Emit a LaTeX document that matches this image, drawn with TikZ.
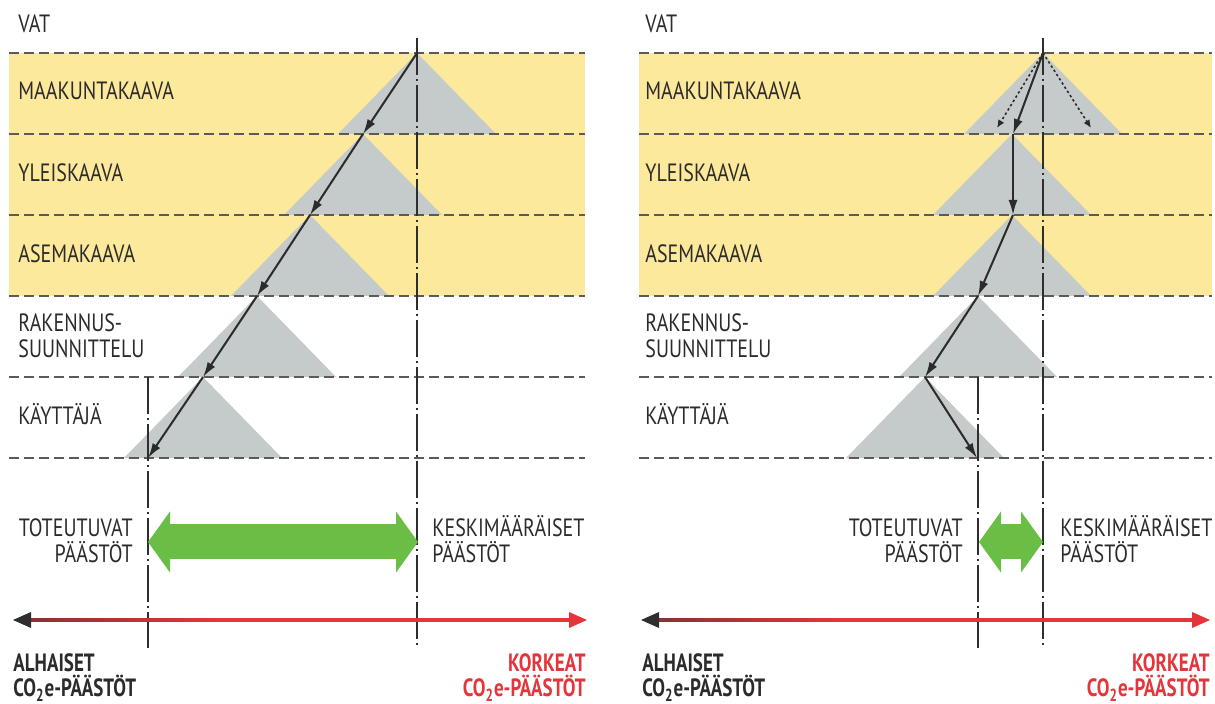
\documentclass[tikz,border=0pt]{standalone}
\usepackage{fontspec}
\setmainfont{PT Sans}[FakeStretch=0.8,BoldFeatures={FakeStretch=0.76}]
\usetikzlibrary{arrows.meta}
\definecolor{bandyellow}{HTML}{FDE99B}
\definecolor{conegray}{HTML}{C5CACA}
\definecolor{gaingreen}{HTML}{6ABD45}
\definecolor{highred}{HTML}{E5343A}
\definecolor{lowblack}{HTML}{2E2E2E}
\definecolor{rulegray}{HTML}{5A5A5A}
\definecolor{ink}{HTML}{2B2B2B}
\pgfdeclarehorizontalshading{blackred}{100bp}{color(0bp)=(lowblack); color(8bp)=(lowblack); color(42bp)=(highred); color(100bp)=(highred)}
\tikzset{
  >={Latex[length=7.5pt,width=4.5pt]},
}
\tikzstyle{cone}=[fill=conegray]
\tikzstyle{level}=[rulegray,line width=1pt,dash pattern=on 5pt off 2.5pt]
\tikzstyle{guide}=[lowblack,line width=1pt,dash pattern=on 18.5pt off 2pt on 1pt off 2pt]
\tikzstyle{move}=[ink,line width=1pt,->]
\tikzstyle{option}=[ink,line width=0.8pt,dash pattern=on 1.2pt off 1.3pt,-{Latex[length=4pt,width=3.5pt]}]
\tikzstyle{span}=[draw=gaingreen,line width=17.5pt,{Triangle[length=11pt,width=30pt]}-{Triangle[length=11pt,width=30pt]}]
\tikzstyle{every node}=[font=\fontsize{12.5}{13}\selectfont,text=ink,inner sep=0pt]
\tikzstyle{lab}=[anchor=base west,align=left]
\tikzstyle{scale label}=[font=\fontsize{12.5}{12.8}\selectfont\bfseries]

\begin{document}
\begin{tikzpicture}[x=0.5pt,y=-0.5pt]
        \useasboundingbox (0,0) rectangle (1215,704);
        % planning levels
        \fill[bandyellow] (9,53) rectangle (585,296);
        \fill[bandyellow] (639,53) rectangle (1212,296);
        \foreach \x/\y in {417/53,363/134,310/215,257/296,203/377,
                           1043/53,1012/134,1012/215,978/296,925/377}
          \fill[cone] (\x,\y) -- ++(-79,81) -- ++(158,0) -- cycle;
        \foreach \y in {53,134,215,296,377,458}{
          \draw[level] (9,\y) -- (585,\y);
          \draw[level] (639,\y) -- (1212,\y);
        }
        \draw[guide] (417,38) -- (417,648);
        \draw[guide] (148,377) -- (148,648);
        \draw[guide] (1043,38) -- (1043,648);
        \draw[guide] (978,377) -- (978,648);
        % left: decisions drift downwards
        \coordinate (L0) at (417,53);
        \coordinate (L1) at (363,134);
        \coordinate (L2) at (310,215);
        \coordinate (L3) at (257,296);
        \coordinate (L4) at (203,377);
        \coordinate (L5) at (148,458);
        \draw[move] (L0) -- (L1);
        \draw[move] (L1) -- (L2);
        \draw[move] (L2) -- (L3);
        \draw[move] (L3) -- (L4);
        \draw[move] (L4) -- (L5);
        % right: decisions stay close to the average
        \coordinate (R0) at (1043,53);
        \coordinate (R1) at (1013,134);
        \coordinate (R2) at (1013,215);
        \coordinate (R3) at (978,296);
        \coordinate (R4) at (925,377);
        \coordinate (R5) at (977,458);
        \coordinate (Ra) at (997,128);
        \coordinate (Rb) at (1091,128);
        \draw[option] (R0) -- (Ra);
        \draw[option] (R0) -- (Rb);
        \draw[move] (R0) -- (R1);
        \draw[move] (R1) -- (R2);
        \draw[move] (R2) -- (R3);
        \draw[move] (R3) -- (R4);
        \draw[move] (R4) -- (R5);
        % gaps
        \coordinate (gl) at (148,542);
        \coordinate (gr) at (418,542);
        \coordinate (hl) at (979,542);
        \coordinate (hr) at (1043,542);
        \draw[span] (gl) -- (gr);
        \draw[span] (hl) -- (hr);
        % emission scale
        \shade[shading=blackred] (30,618.2) rectangle (570,621.8);
        \fill[lowblack] (13,620) -- (31,612) -- (31,628) -- cycle;
        \fill[highred] (587,620) -- (569,612) -- (569,628) -- cycle;
        \shade[shading=blackred] (658,618.2) rectangle (1193,621.8);
        \fill[lowblack] (641,620) -- (659,612) -- (659,628) -- cycle;
        \fill[highred] (1210,620) -- (1192,612) -- (1192,628) -- cycle;
        % labels
        \foreach \x/\s in {18/l,645/r}{
          \node[lab] (vat\s) at (\x,33) {VAT};
          \node[lab] (maak\s) at (\x,100) {MAAKUNTAKAAVA};
          \node[lab] (yleis\s) at (\x,182) {YLEISKAAVA};
          \node[lab] (asema\s) at (\x,263) {ASEMAKAAVA};
          \node[lab] (rak\s) at (\x,358) {RAKENNUS-\\SUUNNITTELU};
          \node[lab] (kayt\s) at (\x,425) {KÄYTTÄJÄ};
        }
        \node[anchor=base east,align=right] (totl) at (133,563) {TOTEUTUVAT\\PÄÄSTÖT};
        \node[lab] (kesl) at (432,563) {KESKIMÄÄRÄISET\\PÄÄSTÖT};
        \node[anchor=base east,align=right] (totr) at (963,563) {TOTEUTUVAT\\PÄÄSTÖT};
        \node[lab] (kesr) at (1060,563) {KESKIMÄÄRÄISET\\PÄÄSTÖT};
        \node[lab,scale label] (lowl) at (13,697) {ALHAISET\\CO\textsubscript{2}e-PÄÄSTÖT};
        \node[anchor=base east,align=right,text=highred,scale label] (highl) at (586,697) {KORKEAT\\CO\textsubscript{2}e-PÄÄSTÖT};
        \node[lab,scale label] (lowr) at (642,697) {ALHAISET\\CO\textsubscript{2}e-PÄÄSTÖT};
        \node[anchor=base east,align=right,text=highred,scale label] (highr) at (1210,697) {KORKEAT\\CO\textsubscript{2}e-PÄÄSTÖT};
      \end{tikzpicture}
\end{document}
